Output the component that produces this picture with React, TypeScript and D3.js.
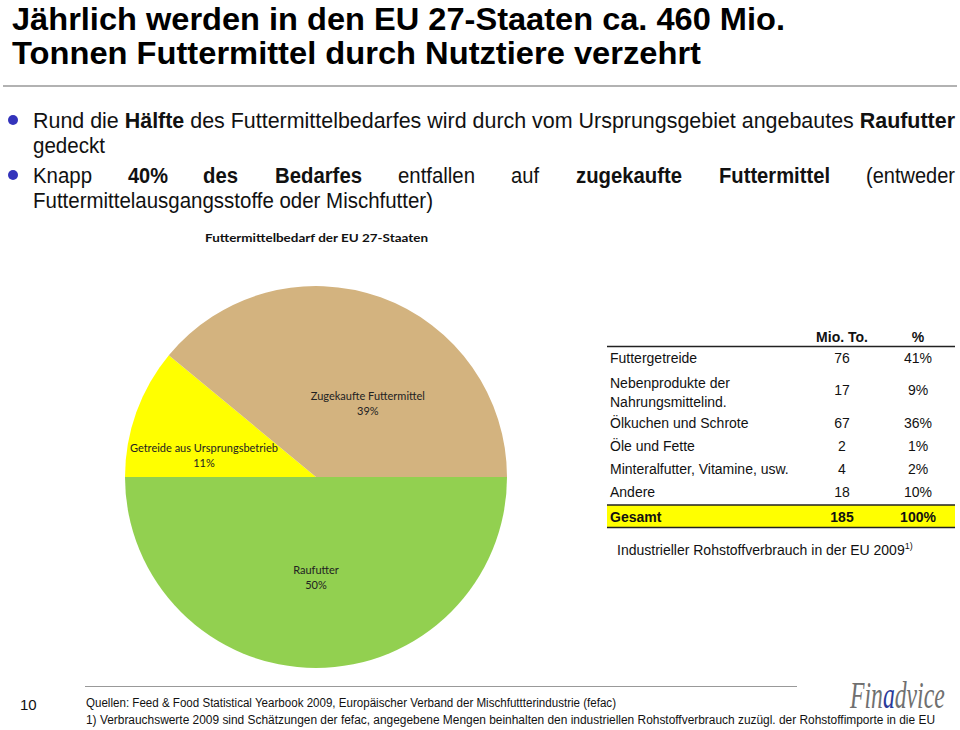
import React from "react";
import { pie, arc, scaleBand } from "d3";

// pie: Futtermittelbedarf der EU 27-Staaten
const sliceNames = ["Raufutter", "Getreide aus Ursprungsbetrieb", "Zugekaufte Futtermittel"];
const sliceShares = [50, 11, 39];
const sliceColors = ["#92D050", "#FFFF00", "#D3B37F"];

// table: Industrieller Rohstoffverbrauch
const rowLabels = [
  ["Futtergetreide"],
  ["Nebenprodukte der", "Nahrungsmittelind."],
  ["Ölkuchen und Schrote"],
  ["Öle und Fette"],
  ["Minteralfutter, Vitamine, usw."],
  ["Andere"],
];
const rowTonnes = [76, 17, 67, 2, 4, 18];
const rowPercents = [41, 9, 36, 1, 2, 10];
const totalTonnes = 185;
const totalPercent = 100;

const bullet2Words = [
  { t: "Knapp", b: false },
  { t: "40%", b: true },
  { t: "des", b: true },
  { t: "Bedarfes", b: true },
  { t: "entfallen", b: false },
  { t: "auf", b: false },
  { t: "zugekaufte", b: true },
  { t: "Futtermittel", b: true },
  { t: "(entweder", b: false },
];

const narrow = "'Liberation Sans Narrow', 'Liberation Sans', Arial, sans-serif";
const sans = "'Liberation Sans', Arial, sans-serif";
const calibri = "Lato, 'Open Sans', sans-serif";

const cx = 316;
const cy = 477;
const radius = 191;
const labelNudge = [[0, 0], [-18, 12], [18, 20]];

const PieBlock = () => {
  const slices = pie<number>()
    .value((d) => d)
    .sort(null)
    .startAngle(Math.PI / 2)
    .endAngle(Math.PI / 2 + 2 * Math.PI)(sliceShares);
  const arcGen = arc<any>().innerRadius(0).outerRadius(radius);
  const labelArc = arc<any>().innerRadius(100).outerRadius(100);
  return (
    <g transform={`translate(${cx}, ${cy})`}>
      {slices.map((d, i) => (
        <path key={i} d={arcGen(d) || ""} fill={sliceColors[i]} />
      ))}
      {slices.map((d, i) => {
        const [x, y] = labelArc.centroid(d);
        const lx = x + labelNudge[i][0];
        const ly = y + labelNudge[i][1];
        return (
          <text key={i} x={lx} y={ly} textAnchor="middle" fontFamily={calibri} fontSize={11} fill="#222">
            <tspan x={lx} dy={-3}>{sliceNames[i]}</tspan>
            <tspan x={lx} dy={15}>{sliceShares[i]}%</tspan>
          </text>
        );
      })}
    </g>
  );
};

const TableBlock = () => {
  const rowHeights = rowLabels.map((r) => (r.length > 1 ? 42 : 23));
  const tops: number[] = [];
  let acc = 346;
  rowHeights.forEach((h) => {
    tops.push(acc);
    acc += h;
  });
  const cols = scaleBand<string>().domain(["label", "tonnes", "pct"]).range([607, 955]);
  const tonX = 842;
  const pctX = 918;
  return (
    <g fontFamily={sans} fontSize={14} fill="#111">
      <text x={tonX} y={342} textAnchor="middle" fontWeight="bold">Mio. To.</text>
      <text x={pctX} y={342} textAnchor="middle" fontWeight="bold">%</text>
      <line x1={cols.range()[0]} x2={cols.range()[1]} y1={346.5} y2={346.5} stroke="#222" strokeWidth={1.3} />
      {rowLabels.map((lines, i) => {
        const mid = tops[i] + rowHeights[i] / 2 + 5;
        return (
          <g key={i}>
            {lines.length > 1 ? (
              <>
                <text x={610} y={tops[i] + 19}>{lines[0]}</text>
                <text x={610} y={tops[i] + 38}>{lines[1]}</text>
              </>
            ) : (
              <text x={610} y={mid}>{lines[0]}</text>
            )}
            <text x={tonX} y={mid} textAnchor="middle">{rowTonnes[i]}</text>
            <text x={pctX} y={mid} textAnchor="middle">{rowPercents[i]}%</text>
          </g>
        );
      })}
      <rect x={607} y={505} width={348} height={22} fill="#FFFF00" />
      <line x1={607} x2={955} y1={505} y2={505} stroke="#222" strokeWidth={1.3} />
      <line x1={607} x2={955} y1={527.5} y2={527.5} stroke="#222" strokeWidth={1.3} />
      <text x={610} y={522} fontWeight="bold">Gesamt</text>
      <text x={tonX} y={522} textAnchor="middle" fontWeight="bold">{totalTonnes}</text>
      <text x={pctX} y={522} textAnchor="middle" fontWeight="bold">{totalPercent}%</text>
      <text x={617} y={555} fontSize={14}>
        Industrieller Rohstoffverbrauch in der EU 2009
        <tspan fontSize={9} dy={-6}>1)</tspan>
      </text>
    </g>
  );
};

const App = () => {
  const wordStarts = [33, 128, 203, 275, 398, 511, 576, 719, 866];
  const wordWidths = [59, 40, 35, 87, 77, 28, 106, 111, 89];
  return (
    <svg width={960} height={730} style={{ position: "absolute", left: 0, top: 0, background: "#fff" }}>
      <rect width={960} height={730} fill="#fff" />
      {/* title */}
      <g fontFamily={narrow} fontWeight="bold" fontSize={32} fill="#000">
        <text x={12} y={30} textLength={773} lengthAdjust="spacingAndGlyphs">Jährlich werden in den EU 27-Staaten ca. 460 Mio.</text>
        <text x={12} y={64} textLength={689} lengthAdjust="spacingAndGlyphs">Tonnen Futtermittel durch Nutztiere verzehrt</text>
      </g>
      <line x1={3} x2={957} y1={86} y2={86} stroke="#999" strokeWidth={1.5} />

      {/* bullets */}
      <circle cx={13} cy={120} r={5} fill="#3333BB" />
      <circle cx={13} cy={175} r={5} fill="#3333BB" />
      <g fontFamily={narrow} fontSize={22} fill="#111">
        <text x={33} y={128} textLength={922} lengthAdjust="spacingAndGlyphs">
          Rund die <tspan fontWeight="bold">Hälfte</tspan> des Futtermittelbedarfes wird durch vom Ursprungsgebiet angebautes{" "}
          <tspan fontWeight="bold">Raufutter</tspan>
        </text>
        <text x={33} y={153} textLength={72} lengthAdjust="spacingAndGlyphs">gedeckt</text>
        {bullet2Words.map((w, i) => (
          <text key={i} x={wordStarts[i]} y={183} fontWeight={w.b ? "bold" : "normal"} textLength={wordWidths[i]} lengthAdjust="spacingAndGlyphs">
            {w.t}
          </text>
        ))}
        <text x={33} y={208} textLength={400} lengthAdjust="spacingAndGlyphs">Futtermittelausgangsstoffe oder Mischfutter)</text>
      </g>

      {/* chart title */}
      <text x={205} y={242} fontFamily={calibri} fontWeight="bold" fontSize={12} fill="#111" textLength={223} lengthAdjust="spacingAndGlyphs">
        Futtermittelbedarf der EU 27-Staaten
      </text>

      <PieBlock />
      <TableBlock />

      {/* footer */}
      <line x1={85} x2={797} y1={686.5} y2={686.5} stroke="#999" strokeWidth={1} />
      <text x={20} y={710} fontFamily={sans} fontSize={15} fill="#111">10</text>
      <g fontFamily={narrow} fontSize={12.5} fill="#111">
        <text x={86} y={707} textLength={530} lengthAdjust="spacingAndGlyphs">
          Quellen: Feed &amp; Food Statistical Yearbook 2009, Europäischer Verband der Mischfuttterindustrie (fefac)
        </text>
        <text x={86} y={724} textLength={849} lengthAdjust="spacingAndGlyphs">
          1) Verbrauchswerte 2009 sind Schätzungen der fefac, angegebene Mengen beinhalten den industriellen Rohstoffverbrauch zuzügl. der Rohstoffimporte in die EU
        </text>
      </g>
      <g transform="translate(850, 708) scale(0.64, 1)">
        <text x={0} y={0} fontFamily="'Liberation Serif', serif" fontStyle="italic" fontSize={37} fill="#707070">
          Fin<tspan fill="#2a3a9a">a</tspan>dvice
        </text>
      </g>
    </svg>
  );
};

export default App;
